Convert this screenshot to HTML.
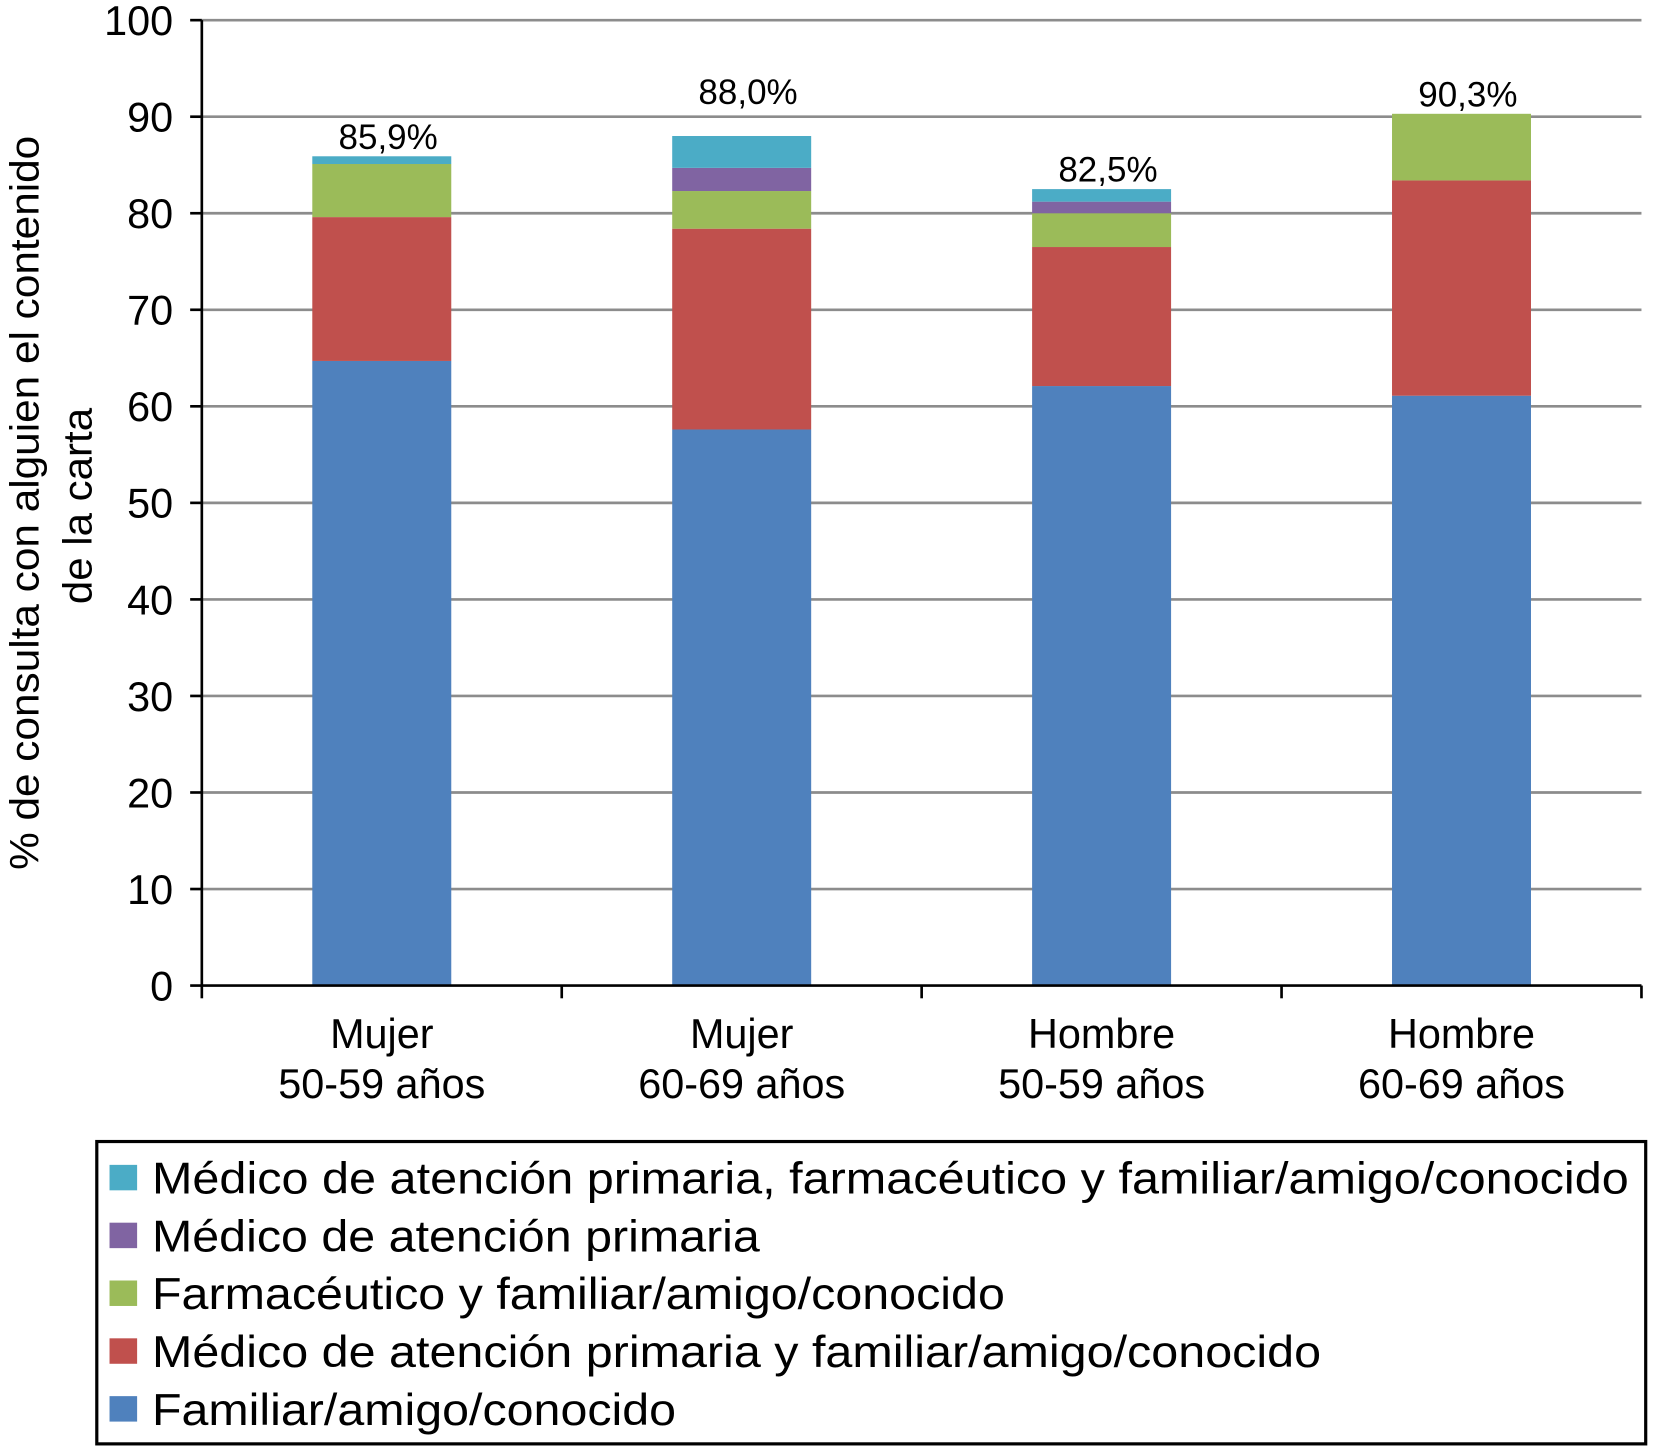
<!DOCTYPE html>
<html><head><meta charset="utf-8"><style>
html,body{margin:0;padding:0;background:#fff}
svg{display:block;font-family:"Liberation Sans",sans-serif}
</style></head><body>
<svg id="chart" width="1664" height="1446" viewBox="0 0 1568 1363" xmlns="http://www.w3.org/2000/svg">
<g id="grid"></g>
<g id="bars"></g>
<g id="axes"></g>
<g font-size="38" fill="#000" text-anchor="middle">
<text transform="translate(36,474) rotate(-90)" textLength="692" lengthAdjust="spacingAndGlyphs">% de consulta con alguien el contenido</text>
<text transform="translate(86,477) rotate(-90)" textLength="185" lengthAdjust="spacingAndGlyphs">de la carta</text>
</g>
<g id="legend">
<rect x="91" y="1076" width="1460" height="285" fill="#fff" stroke="#000" stroke-width="3"/>
</g>
</svg>
<script>
const categories=[["Mujer","50-59 años"],["Mujer","60-69 años"],["Hombre","50-59 años"],["Hombre","60-69 años"]];
const seriesNames=["Familiar/amigo/conocido","Médico de atención primaria y familiar/amigo/conocido","Farmacéutico y familiar/amigo/conocido","Médico de atención primaria","Médico de atención primaria, farmacéutico y familiar/amigo/conocido"];
const familiar=[64.7,57.6,62.1,61.1];
const medicoFamiliar=[14.9,20.8,14.4,22.3];
const farmaFamiliar=[5.5,3.9,3.5,6.9];
const medico=[0,2.4,1.2,0];
const todos=[0.8,3.3,1.3,0];
const totals=["85,9%","88,0%","82,5%","90,3%"];
const yTicks=[0,10,20,30,40,50,60,70,80,90,100];
const colors=["#4f81bd","#c0504d","#9bbb59","#8064a2","#4bacc6"];

const NS="http://www.w3.org/2000/svg";
const X0=190,X1=1547,Y0=929,Y100=19;
const y=v=>Y0-(v/100)*(Y0-Y100);
const band=(X1-X0)/categories.length;
const xc=i=>X0+band*(i+0.5);
const BW=131;
const legendWidths=[1392,573,804,1102,494];
function mk(tag,attrs,parent){const e=document.createElementNS(NS,tag);for(const k in attrs)e.setAttribute(k,attrs[k]);parent.appendChild(e);return e;}
const grid=document.getElementById('grid'),bars=document.getElementById('bars'),axes=document.getElementById('axes'),legend=document.getElementById('legend');
yTicks.forEach(t=>{
  if(t>0){const l=mk('line',{x1:X0,x2:X1,y1:y(t),y2:y(t),stroke:'#8c8c8c','stroke-width':2.5},grid);
  
  }
  const tk=mk('line',{x1:X0-11,x2:X0,y1:y(t),y2:y(t),stroke:'#000','stroke-width':2.5},axes);
  
  
  const tx=mk('text',{x:X0-27,y:y(t)+14,'text-anchor':'end','font-size':39},axes);tx.textContent=t;
  
  
});
const series=[familiar,medicoFamiliar,farmaFamiliar,medico,todos];
categories.forEach((c,i)=>{
  let acc=0;
  series.forEach((s,k)=>{
    const v=s[i];if(v<=0)return;
    const r=mk('rect',{x:xc(i)-BW/2,y:y(acc+v),width:BW,height:y(acc)-y(acc+v),fill:colors[k]},bars);
    
    
    acc+=v;
  });
  let ly=y(acc)-7;
  yTicks.forEach(t=>{const gy=y(t);if(gy>ly-26&&gy<ly+2)ly=gy-12;});
  const lb=mk('text',{x:xc(i)+6,y:ly,'text-anchor':'middle','font-size':33},bars);lb.textContent=totals[i];
  
  
  c.forEach((line,j)=>{const t=mk('text',{x:xc(i),y:988+j*47,'text-anchor':'middle','font-size':39},axes);t.textContent=line;
  
  });
});
mk('line',{x1:X0,x2:X0,y1:Y100,y2:Y0,stroke:'#000','stroke-width':2.5},axes);
mk('line',{x1:X0,x2:X1,y1:Y0,y2:Y0,stroke:'#000','stroke-width':2.5},axes);
for(let i=0;i<=categories.length;i++){const tk=mk('line',{x1:X0+band*i,x2:X0+band*i,y1:Y0,y2:Y0+12,stroke:'#000','stroke-width':2.5},axes);

}
const order=[4,3,2,1,0];
order.forEach((k,j)=>{
  const yy=1110+j*54.5;
  const g=mk('g',{},legend);
  
  
  mk('rect',{x:103,y:yy-12,width:26,height:24,fill:colors[k]},g);
  const t=mk('text',{x:143,y:yy+15,'font-size':42,textLength:legendWidths[j],lengthAdjust:'spacingAndGlyphs'},g);t.textContent=seriesNames[k];
});
</script>
</body></html>
